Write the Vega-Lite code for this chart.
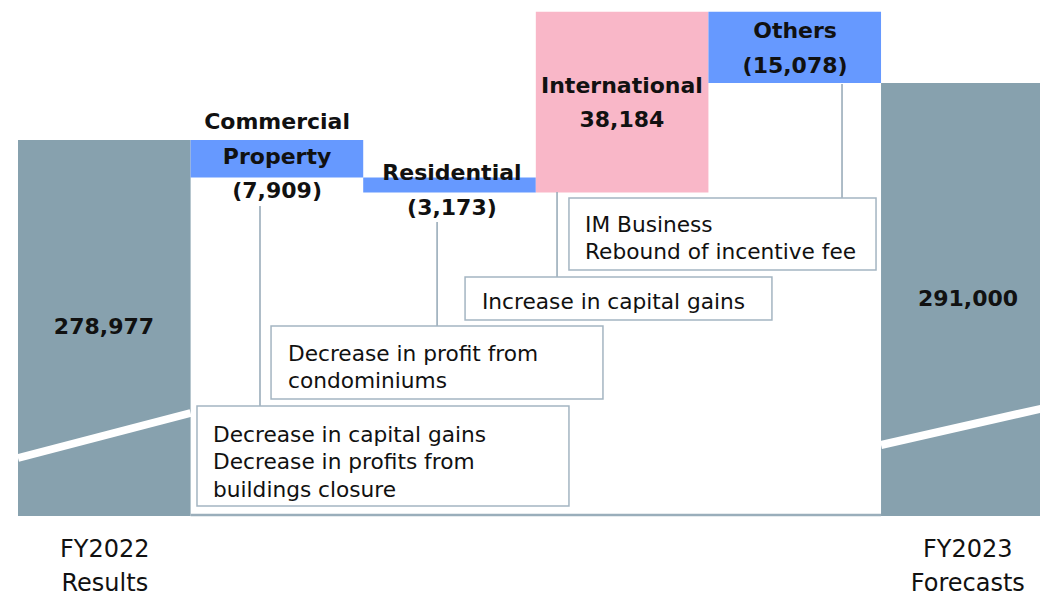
{
  "$schema": "https://vega.github.io/schema/vega-lite/v6.json",
  "width": 1040,
  "height": 516,
  "autosize": "none",
  "padding": {"left": 0, "top": 0, "right": 0, "bottom": 79},
  "config": {"view": {"stroke": null}, "font": "DejaVu Sans"},
  "datasets": {
    "bars": [
      {"name": "FY2022 Results", "x": 0, "x2": 1, "y": 199528, "y2": 278977, "kind": "total"},
      {"name": "Commercial Property", "x": 1, "x2": 2, "y": 278977, "y2": 271068, "kind": "decrease"},
      {"name": "Residential", "x": 2, "x2": 3, "y": 271068, "y2": 267895, "kind": "decrease"},
      {"name": "International", "x": 3, "x2": 4, "y": 267895, "y2": 306079, "kind": "increase"},
      {"name": "Others", "x": 4, "x2": 5, "y": 306079, "y2": 291001, "kind": "decrease"},
      {"name": "FY2023 Forecasts", "x": 5, "x2": 6, "y": 199528, "y2": 291000, "kind": "total"}
    ],
    "breaks": [
      {"x": 0, "x2": 1, "y": 211784, "y2": 221292},
      {"x": 5, "x2": 6, "y": 214530, "y2": 222792}
    ],
    "leaders": [
      {"x": 1.402, "y": 265032, "y2": 222771},
      {"x": 2.428, "y": 261651, "y2": 239675},
      {"x": 3.123, "y": 267989, "y2": 250029},
      {"x": 4.774, "y": 290810, "y2": 266722}
    ],
    "boxes": [
      {"x": 1.037, "x2": 3.192, "y": 222771, "y2": 201641},
      {"x": 1.466, "x2": 3.389, "y": 239675, "y2": 224250},
      {"x": 2.590, "x2": 4.368, "y": 250029, "y2": 240943},
      {"x": 3.192, "x2": 4.971, "y": 266722, "y2": 251508}
    ],
    "baseline": [
      {"x": 1, "x2": 5, "y": 199739}
    ],
    "labels": [
      {"x": 1.501, "y": 282780, "t": "Commercial"},
      {"x": 1.501, "y": 275385, "t": "Property"},
      {"x": 1.501, "y": 268201, "t": "(7,909)"},
      {"x": 2.514, "y": 272004, "t": "Residential"},
      {"x": 2.514, "y": 264609, "t": "(3,173)"},
      {"x": 3.499, "y": 290387, "t": "International"},
      {"x": 3.499, "y": 283203, "t": "38,184"},
      {"x": 4.502, "y": 302009, "t": "Others"},
      {"x": 4.502, "y": 294613, "t": "(15,078)"},
      {"x": 0.498, "y": 239464, "t": "278,977"},
      {"x": 5.504, "y": 245380, "t": "291,000"}
    ],
    "notes": [
      {"x": 1.130, "y": 216643, "t": "Decrease in capital gains"},
      {"x": 1.130, "y": 210938, "t": "Decrease in profits from"},
      {"x": 1.130, "y": 205022, "t": "buildings closure"},
      {"x": 1.564, "y": 233759, "t": "Decrease in profit from"},
      {"x": 1.564, "y": 228054, "t": "condominiums"},
      {"x": 2.688, "y": 244746, "t": "Increase in capital gains"},
      {"x": 3.285, "y": 261016, "t": "IM Business"},
      {"x": 3.285, "y": 255311, "t": "Rebound of incentive fee"}
    ]
  },
  "encoding": {
    "x": {
      "field": "x", "type": "quantitative",
      "scale": {"domain": [-0.1043, 5.921], "nice": false, "zero": false},
      "axis": {
        "values": [0.5, 5.5],
        "labelExpr": "datum.value < 3 ? ['FY2022', 'Results'] : ['FY2023', 'Forecasts']",
        "domain": false, "ticks": false, "grid": false, "title": null,
        "labelFontSize": 24, "labelColor": "#111111", "labelFont": "DejaVu Sans",
        "labelLineHeight": 34, "labelPadding": 21, "labelBaseline": "top",
        "labelFlush": false, "labelOverlap": false
      }
    },
    "y": {
      "field": "y", "type": "quantitative",
      "scale": {"domain": [199528, 308559], "nice": false, "zero": false},
      "axis": null
    }
  },
  "layer": [
    {
      "data": {"name": "bars"},
      "mark": {"type": "rect", "clip": true},
      "encoding": {
        "x2": {"field": "x2"},
        "y2": {"field": "y2"},
        "color": {
          "field": "kind", "type": "nominal",
          "scale": {"domain": ["total", "decrease", "increase"], "range": ["#87A1AE", "#6699FF", "#F9B7C8"]},
          "legend": null
        }
      }
    },
    {
      "data": {"name": "breaks"},
      "mark": {"type": "rule", "color": "white", "strokeWidth": 8, "clip": true, "strokeCap": "butt"},
      "encoding": {"x2": {"field": "x2"}, "y2": {"field": "y2"}}
    },
    {
      "data": {"name": "baseline"},
      "mark": {"type": "rule", "color": "#9AAEBB", "strokeWidth": 2.5},
      "encoding": {"x2": {"field": "x2"}}
    },
    {
      "data": {"name": "leaders"},
      "mark": {"type": "rule", "color": "#93A7B5", "strokeWidth": 1.5},
      "encoding": {"y2": {"field": "y2"}}
    },
    {
      "data": {"name": "boxes"},
      "mark": {"type": "rect", "fill": "white", "stroke": "#A4B5C2", "strokeWidth": 1.5},
      "encoding": {"x2": {"field": "x2"}, "y2": {"field": "y2"}}
    },
    {
      "data": {"name": "labels"},
      "mark": {"type": "text", "font": "DejaVu Sans", "fontWeight": "bold", "fontSize": 22, "align": "center", "baseline": "middle", "color": "#111111"},
      "encoding": {"text": {"field": "t"}}
    },
    {
      "data": {"name": "notes"},
      "mark": {"type": "text", "font": "DejaVu Sans", "fontSize": 21.7, "align": "left", "baseline": "middle", "color": "#111111"},
      "encoding": {"text": {"field": "t"}}
    }
  ]
}
